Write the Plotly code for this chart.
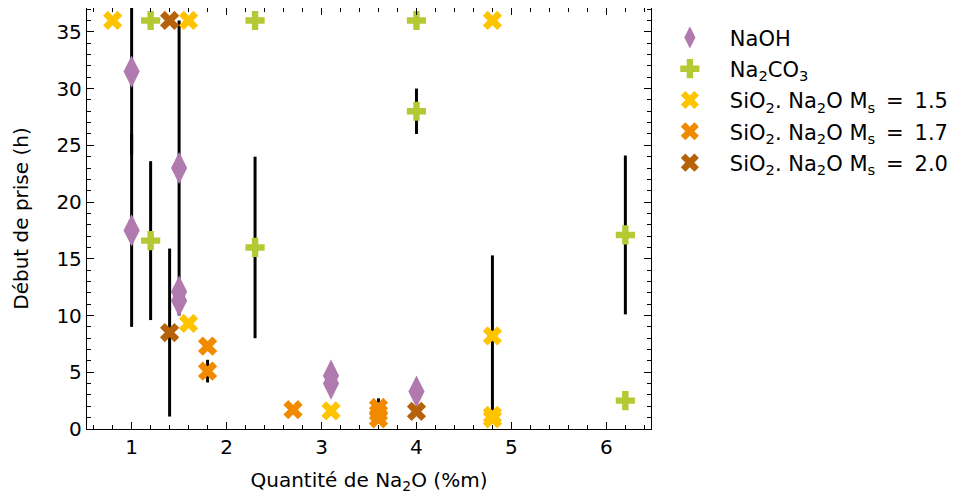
import plotly.graph_objects as go

# ---- data ----
naoh_x = [1.0, 1.0, 1.5, 1.5, 1.5, 3.1, 3.1, 4.0]
naoh_y = [31.5, 17.5, 23.0, 12.1, 11.3, 4.7, 4.0, 3.3]
naoh_err = [7.3, 8.5, 13.0, None, None, None, 0.8, None]

na2co3_x = [1.2, 1.2, 2.3, 2.3, 4.0, 4.0, 6.2, 6.2]
na2co3_y = [36, 16.6, 36, 16.0, 36, 28.0, 17.1, 2.5]
na2co3_err = [None, 7.0, None, 8.0, None, 2.0, 7.0, None]

ms15_x = [0.8, 1.6, 1.6, 3.1, 4.8, 4.8, 4.8, 4.8]
ms15_y = [36, 36, 9.3, 1.6, 36, 8.2, 1.2, 0.9]
ms15_err = [None, None, None, None, None, 7.1, None, None]

ms17_x = [1.8, 1.8, 2.7, 3.6, 3.6, 3.6]
ms17_y = [7.3, 5.1, 1.7, 1.9, 1.4, 0.9]
ms17_err = [None, 1.0, None, 0.8, None, None]

ms20_x = [1.4, 1.4, 4.0]
ms20_y = [36, 8.5, 1.55]
ms20_err = [None, 7.4, None]

series = [
    ("NaOH", naoh_x, naoh_y, naoh_err, "diamond-tall", "#b07aaf", 23),
    ("Na<sub>2</sub>CO<sub>3</sub>", na2co3_x, na2co3_y, na2co3_err, "cross", "#b5c934", 16),
    ("SiO<sub>2</sub>. Na<sub>2</sub>O M<sub>s</sub>&#8201; = &#8201;1.5", ms15_x, ms15_y, ms15_err, "x", "#ffc400", 17),
    ("SiO<sub>2</sub>. Na<sub>2</sub>O M<sub>s</sub>&#8201; = &#8201;1.7", ms17_x, ms17_y, ms17_err, "x", "#f28a00", 17),
    ("SiO<sub>2</sub>. Na<sub>2</sub>O M<sub>s</sub>&#8201; = &#8201;2.0", ms20_x, ms20_y, ms20_err, "x", "#b5620a", 17),
]

fig = go.Figure()
for i, (name, xs, ys, errs, sym, col, sz) in enumerate(series):
    fig.add_trace(go.Scatter(
        x=xs, y=ys, mode="markers", name=name, legendgroup=f"g{i}",
        marker=dict(symbol=sym, color=col, size=sz, line=dict(width=0)),
        error_y=dict(type="data", array=errs, visible=True, color="black",
                     thickness=3, width=0),
    ))

FS = 20
axis_common = dict(
    showgrid=False, zeroline=False, showline=True, linecolor="black", linewidth=1.3,
    mirror="allticks", ticks="inside", ticklen=7, tickwidth=1.3, tickcolor="black",
    tickfont=dict(size=FS, color="black"),
)
fig.update_xaxes(
    range=[0.53, 6.47], tickvals=[1, 2, 3, 4, 5, 6],
    minor=dict(dtick=0.2, tick0=0, ticks="inside", ticklen=4, tickwidth=1, tickcolor="black"),
    title=dict(text="Quantité de Na<sub>2</sub>O (%m)", font=dict(size=FS, color="black"), standoff=14),
    **axis_common,
)
fig.update_yaxes(
    range=[0, 37.1], tickvals=[0, 5, 10, 15, 20, 25, 30, 35],
    minor=dict(dtick=1, tick0=0, ticks="inside", ticklen=4, tickwidth=1, tickcolor="black"),
    title=dict(text="Début de prise (h)", font=dict(size=FS, color="black"), standoff=22),
    **axis_common,
)
fig.update_layout(
    width=949, height=489,
    margin=dict(l=79, r=306, t=0, b=68, autoexpand=False),
    plot_bgcolor="white", paper_bgcolor="white",
    font=dict(family="DejaVu Sans", size=FS, color="black"),
    legend=dict(x=0.998, y=0.978, xanchor="left", yanchor="top",
                font=dict(size=21), bgcolor="rgba(0,0,0,0)", itemwidth=70,
                tracegroupgap=1),
    showlegend=True,
)
fig.write_html("out.html")
